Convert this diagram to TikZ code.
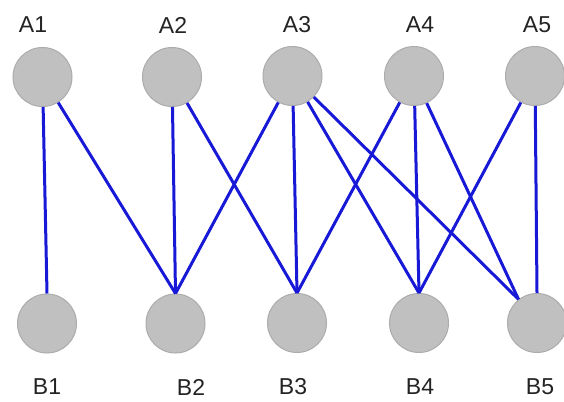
\documentclass[tikz,border=0pt]{standalone}
\usepackage{fontspec}
\setmainfont{Liberation Sans}
\definecolor{nodefill}{RGB}{192,192,192}
\definecolor{nodeline}{RGB}{172,172,172}
\definecolor{edgeblue}{RGB}{24,24,215}
\definecolor{labelgray}{RGB}{35,35,35}
\begin{document}
\begin{tikzpicture}[x=1pt,y=-1pt,
  vert/.style={circle,draw=nodeline,line width=1pt,fill=nodefill,minimum size=59pt,inner sep=0pt},
  lbl/.style={font=\fontsize{23}{25}\selectfont,text=labelgray,inner sep=0pt},
  edge/.style={draw=edgeblue,line width=3pt}]
\useasboundingbox[fill=white] (0,0) rectangle (564,401);
% top row
\node[vert] (A1) at (42.5,77) {};
\node[vert] (A2) at (172,77) {};
\node[vert] (A3) at (292.5,76) {};
\node[vert] (A4) at (414,76) {};
\node[vert] (A5) at (535,76) {};
% bottom row
\node[vert] (B1) at (47,323.5) {};
\node[vert] (B2) at (175.5,323.5) {};
\node[vert] (B3) at (297,323) {};
\node[vert] (B4) at (419,323) {};
\node[vert] (B5) at (537,323) {};
% labels
\node[lbl] (LA1) at (33,25) {A1};
\node[lbl] (LA2) at (173,25) {A2};
\node[lbl] (LA3) at (297,25) {A3};
\node[lbl] (LA4) at (420,25) {A4};
\node[lbl] (LA5) at (537,25) {A5};
\node[lbl] (LB1) at (47,387) {B1};
\node[lbl] (LB2) at (191,387) {B2};
\node[lbl] (LB3) at (293,387) {B3};
\node[lbl] (LB4) at (420,387) {B4};
\node[lbl] (LB5) at (540,387) {B5};
% edges
\draw[edge] (A1) -- (B1.north);
\draw[edge] (A1) -- (B2.north);
\draw[edge] (A2) -- (B2.north);
\draw[edge] (A2) -- (B3.north);
\draw[edge] (A3) -- (B2.north);
\draw[edge] (A3) -- (B3.north);
\draw[edge] (A3) -- (B4.north);
\draw[edge] (A3) -- (B5.128);
\draw[edge] (A4) -- (B3.north);
\draw[edge] (A4) -- (B4.north);
\draw[edge] (A4) -- (B5.128);
\draw[edge] (A5) -- (B4.north);
\draw[edge] (A5) -- (B5.north);
\end{tikzpicture}
\end{document}
